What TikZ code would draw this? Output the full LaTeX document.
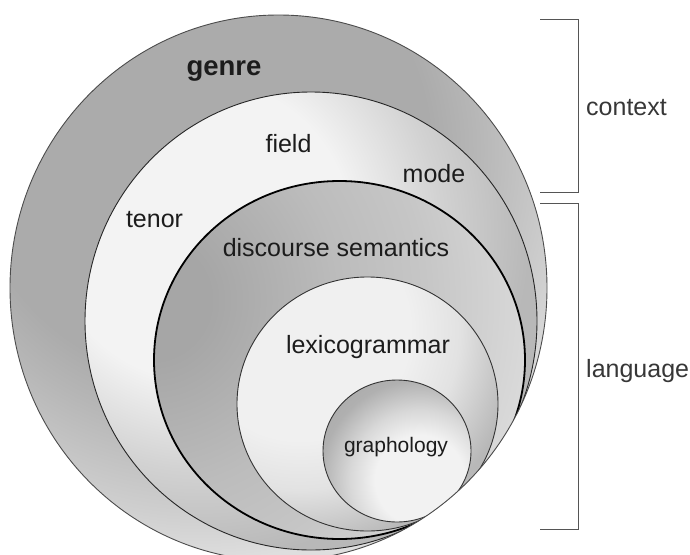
\documentclass[tikz,border=0pt]{standalone}
\usepackage{fontspec}
\setmainfont{Liberation Sans}
\definecolor{txt}{HTML}{1C1C1C}
\definecolor{brk}{HTML}{555555}
% genre
\definecolor{gA}{HTML}{ABABAB}
\definecolor{gB}{HTML}{B6B6B6}
\definecolor{gC}{HTML}{CFCFCF}
\definecolor{gD}{HTML}{DEDEDE}
% field
\definecolor{fA}{HTML}{F3F3F3}
\definecolor{fB}{HTML}{D2D2D2}
\definecolor{fC}{HTML}{B8B8B8}
% discourse
\definecolor{dA}{HTML}{A6A6A6}
\definecolor{dB}{HTML}{BCBCBC}
\definecolor{dC}{HTML}{C6C6C6}
\definecolor{dD}{HTML}{DADADA}
% lexico
\definecolor{lA}{HTML}{F0F0F0}
\definecolor{lB}{HTML}{E2E2E2}
\definecolor{lC}{HTML}{B8B8B8}
% grapho
\definecolor{pA}{HTML}{F2F2F2}
\definecolor{pB}{HTML}{D8D8D8}
\definecolor{pC}{HTML}{B0B0B0}
\definecolor{pD}{HTML}{A8A8A8}
% radial shadings: a circle of radius 500 maps to 25bp, so 1bp = 20 units
\pgfdeclareradialshading{genreR}{\pgfpoint{0bp}{0bp}}{color(0bp)=(gA); color(11.5bp)=(gA); color(13.75bp)=(gB); color(18.25bp)=(gC); color(20.5bp)=(gD); color(50bp)=(gD)}
\pgfdeclareradialshading{fieldR}{\pgfpoint{0bp}{0bp}}{color(0bp)=(fA); color(7.5bp)=(fA); color(12bp)=(fB); color(16.5bp)=(fC); color(50bp)=(fC)}
\pgfdeclareradialshading{discR}{\pgfpoint{0bp}{0bp}}{color(0bp)=(dA); color(3bp)=(dA); color(9.5bp)=(dB); color(13.75bp)=(dC); color(19.25bp)=(dD); color(50bp)=(dD)}
\pgfdeclareradialshading{lexR}{\pgfpoint{0bp}{0bp}}{color(0bp)=(lA); color(5.5bp)=(lA); color(8bp)=(lB); color(11bp)=(lC); color(50bp)=(lC)}
\pgfdeclareradialshading{graphR}{\pgfpoint{0bp}{0bp}}{color(0bp)=(pA); color(2.25bp)=(pA); color(3.5bp)=(pB); color(5bp)=(pC); color(6.5bp)=(pD); color(50bp)=(pD)}
\begin{document}
\begin{tikzpicture}[x=1pt,y=-1pt,
  lbl/.style={font=\fontsize{25}{30}\selectfont, text=txt, inner sep=0pt, anchor=base},
  sidelbl/.style={font=\fontsize{25}{30}\selectfont, text=txt!88, inner sep=0pt, anchor=base west},
  ring/.style={line width=0.9pt, draw=black!80},
  bracket/.style={line width=0.9pt, draw=brk}]
\useasboundingbox (0,0) rectangle (690,554);
% nested circles, all kept inside the outer one
\begin{scope}
  \clip (278.5,288) ellipse [x radius=268.5pt, y radius=273pt];
  \shade[shading=genreR] (200,150) circle [radius=500pt];
  \begin{scope}
    \clip (311,321) ellipse [x radius=226pt, y radius=229pt];
    \shade[shading=fieldR] (200,230) circle [radius=500pt];
  \end{scope}
  \draw[ring, draw=black!85] (311,321) ellipse [x radius=226pt, y radius=229pt];
  \begin{scope}
    \clip (339.5,360) ellipse [x radius=185.5pt, y radius=179pt];
    \shade[shading=discR] (150,300) circle [radius=500pt];
  \end{scope}
  \draw[ring, line width=1.8pt, draw=black] (339.5,360) ellipse [x radius=185.5pt, y radius=179pt];
  \begin{scope}
    \clip (367.5,404) ellipse [x radius=130.5pt, y radius=127pt];
    \shade[shading=lexR] (300,330) circle [radius=500pt];
  \end{scope}
  \draw[ring] (367.5,404) ellipse [x radius=130.5pt, y radius=127pt];
  \begin{scope}
    \clip (397,451) ellipse [x radius=74pt, y radius=71pt];
    \shade[shading=graphR] (420,480) circle [radius=500pt];
  \end{scope}
  \draw[ring] (397,451) ellipse [x radius=74pt, y radius=71pt];
\end{scope}
\draw[ring, draw=black!70] (278.5,288) ellipse [x radius=268.5pt, y radius=273pt];
% labels
\node[lbl, font=\fontsize{27.5}{32}\selectfont\bfseries] (genre) at (224,75) {genre};
\node[lbl] (field) at (288.5,152) {field};
\node[lbl] (mode) at (434,182) {mode};
\node[lbl] (tenor) at (154.5,227) {tenor};
\node[lbl] (disc) at (336,256) {discourse semantics};
\node[lbl] (lexico) at (368,353) {lexicogrammar};
\node[lbl, font=\fontsize{21}{25}\selectfont] (grapho) at (396,452) {graphology};
% brackets
\coordinate (c1) at (540,19);
\coordinate (c2) at (578,19);
\coordinate (c3) at (578,192);
\coordinate (c4) at (540,192);
\draw[bracket] (c1) -- (c2) -- (c3) -- (c4);
\coordinate (l1) at (540,203);
\coordinate (l2) at (578,203);
\coordinate (l3) at (578,529);
\coordinate (l4) at (540,529);
\draw[bracket] (l1) -- (l2) -- (l3) -- (l4);
\node[sidelbl] (context) at (586,115) {context};
\node[sidelbl] (language) at (586,377) {language};
\end{tikzpicture}
\end{document}
